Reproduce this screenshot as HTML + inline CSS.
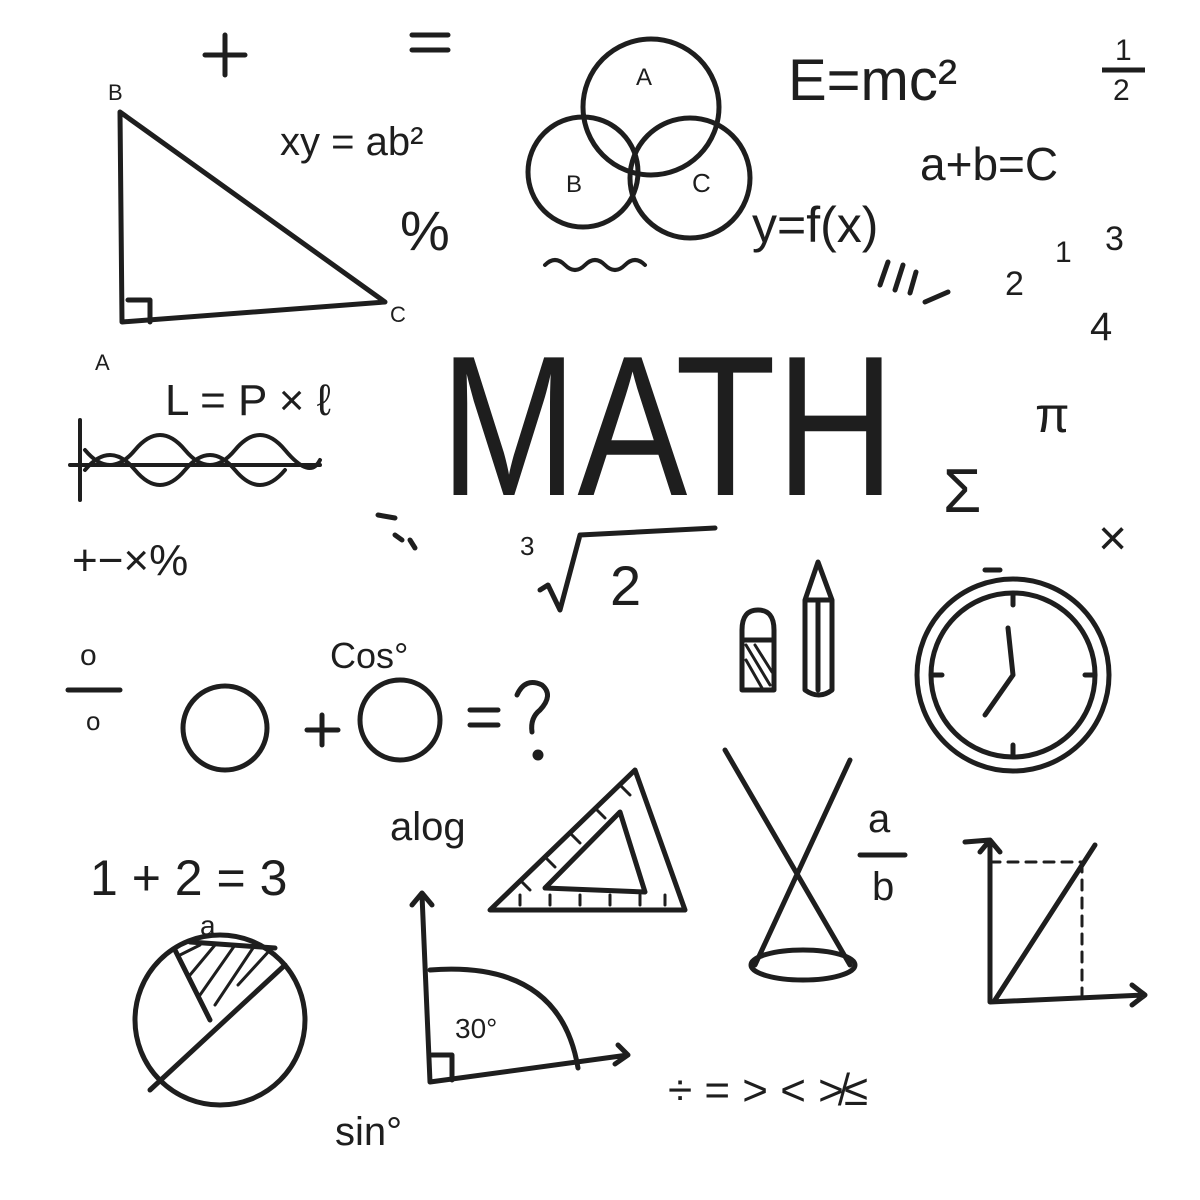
<!DOCTYPE html>
<html><head><meta charset="utf-8"><style>
html,body{margin:0;padding:0;background:#fff}
svg{display:block}
text{font-family:"Liberation Sans",sans-serif;fill:#1e1e1e}
</style></head><body>
<svg width="1200" height="1200" viewBox="0 0 1200 1200" xmlns="http://www.w3.org/2000/svg">
<g fill="none" stroke="#1e1e1e" stroke-width="5" stroke-linecap="round" stroke-linejoin="round">
<path d="M225 35 V75 M205 55 H245"/>
<path d="M412 35 H448 M412 50 H448"/>
<path d="M120 112 L122 322 L385 302 Z"/>
<path d="M128 300 H150 V322"/>
<circle cx="651" cy="107" r="68"/>
<circle cx="583" cy="172" r="55"/>
<circle cx="690" cy="178" r="60"/>
<path d="M545 265 q10 -10 20 0 t20 0 t20 0 t20 0 t20 0" stroke-width="4"/>
<path d="M80 420 V500 M70 465 H320" stroke-width="4"/>
<path d="M85 450 q25 30 50 0 t50 0 t50 0 t50 0 t35 10 M85 470 q25 -30 50 0 t50 0 t50 0 t50 0" stroke-width="4"/>
<path d="M880 285 L888 262 M895 290 L903 265 M910 293 L916 272 M925 302 L948 292"/>
<path d="M378 515 L395 518 M395 535 L402 540 M410 540 L415 548"/>
<path d="M540 590 L548 585 L560 610 L580 535 L715 528"/>
<path d="M742 630 q0 -20 16 -20 q16 0 16 20 V690 H742 Z M742 640 H774"/>
<path d="M746 645 L770 685 M746 660 L762 688 M755 645 L772 672" stroke-width="3"/>
<path d="M805 600 L818 562 L832 600 V690 q-13 10 -27 0 Z M805 600 H832 M818 600 V690"/>
<circle cx="1013" cy="675" r="96"/>
<circle cx="1013" cy="675" r="82"/>
<path d="M985 570 H1000 M1013 675 L1008 628 M1013 675 L985 715 M1013 595 V605 M1013 745 V755 M932 675 H942 M1085 675 H1095"/>
<circle cx="225" cy="728" r="42"/>
<circle cx="400" cy="720" r="40"/>
<path d="M322 715 V745 M307 730 H338 M470 710 H498 M470 725 H498"/>
<path d="M517 695 q8 -18 25 -10 q12 10 -2 25 q-10 8 -8 22"/>
<circle cx="538" cy="755" r="3" fill="#1e1e1e"/>
<path d="M68 690 H120"/>
<path d="M490 910 L635 770 L685 910 Z M545 888 L620 812 L645 892 Z"/>
<path d="M520 880 l10 10 M545 857 l10 10 M570 833 l10 10 M595 808 l10 10 M620 785 l10 10 M520 905 v-10 M550 905 v-10 M580 905 v-10 M610 905 v-10 M640 905 v-10 M665 905 v-10" stroke-width="3"/>
<path d="M725 750 L850 965 M850 760 L755 965"/>
<ellipse cx="803" cy="965" rx="52" ry="15"/>
<path d="M860 855 H905"/>
<path d="M965 842 L990 840 V1002 L1145 995 M1132 985 L1145 995 L1132 1005 M980 852 L990 840 L1000 852"/>
<path d="M995 1000 L1095 845"/>
<path d="M990 862 H1085 M1082 862 V995" stroke-dasharray="10 8" stroke-width="3"/>
<circle cx="220" cy="1020" r="85"/>
<path d="M150 1090 L285 965 M175 950 L210 1020 M190 942 L275 948"/>
<path d="M180 955 L200 945 M190 975 L215 945 M200 995 L235 945 M215 1005 L255 945 M238 985 L270 950" stroke-width="3"/>
<path d="M422 895 L430 1082 L628 1055 M412 905 L422 893 L432 905 M618 1045 L628 1055 L615 1064"/>
<path d="M430 970 Q560 960 578 1068"/>
<path d="M432 1055 H452 V1080"/>
</g>
<g>
<text x="108" y="100" font-size="22">B</text>
<text x="95" y="370" font-size="22">A</text>
<text x="390" y="322" font-size="22">C</text>
<text x="280" y="155" font-size="40">xy = ab²</text>
<text x="400" y="250" font-size="56">%</text>
<text x="636" y="85" font-size="24">A</text>
<text x="566" y="192" font-size="24">B</text>
<text x="692" y="192" font-size="26">C</text>
<text x="788" y="100" font-size="58">E=mc²</text>
<text x="1115" y="60" font-size="30">1</text>
<path d="M1102 70 H1145" stroke="#1e1e1e" stroke-width="5" fill="none"/>
<text x="1113" y="100" font-size="30">2</text>
<text x="920" y="180" font-size="46">a+b=C</text>
<text x="752" y="242" font-size="50">y=f(x)</text>
<text x="1005" y="295" font-size="34">2</text>
<text x="1055" y="262" font-size="30">1</text>
<text x="1105" y="250" font-size="34">3</text>
<text x="1090" y="340" font-size="40">4</text>
<text x="440" y="495" font-size="200" textLength="455" lengthAdjust="spacingAndGlyphs">MATH</text>
<text x="1035" y="432" font-size="50">π</text>
<text x="943" y="512" font-size="62">Σ</text>
<text x="1098" y="555" font-size="50">×</text>
<text x="165" y="415" font-size="44">L = P × ℓ</text>
<text x="72" y="575" font-size="44">+−×%</text>
<text x="520" y="555" font-size="26">3</text>
<text x="610" y="605" font-size="56">2</text>
<text x="330" y="668" font-size="36">Cos°</text>
<text x="80" y="665" font-size="30">o</text>
<text x="86" y="730" font-size="26">o</text>
<text x="390" y="840" font-size="40">alog</text>
<text x="868" y="832" font-size="40">a</text>
<text x="872" y="900" font-size="40">b</text>
<text x="90" y="895" font-size="50">1 + 2 = 3</text>
<text x="200" y="935" font-size="28">a</text>
<text x="455" y="1038" font-size="28">30°</text>
<text x="335" y="1145" font-size="40">sin°</text>
<text x="668" y="1105" font-size="44">÷ = &gt; &lt; ≯≤</text>
</g>
</svg>
</body></html>
